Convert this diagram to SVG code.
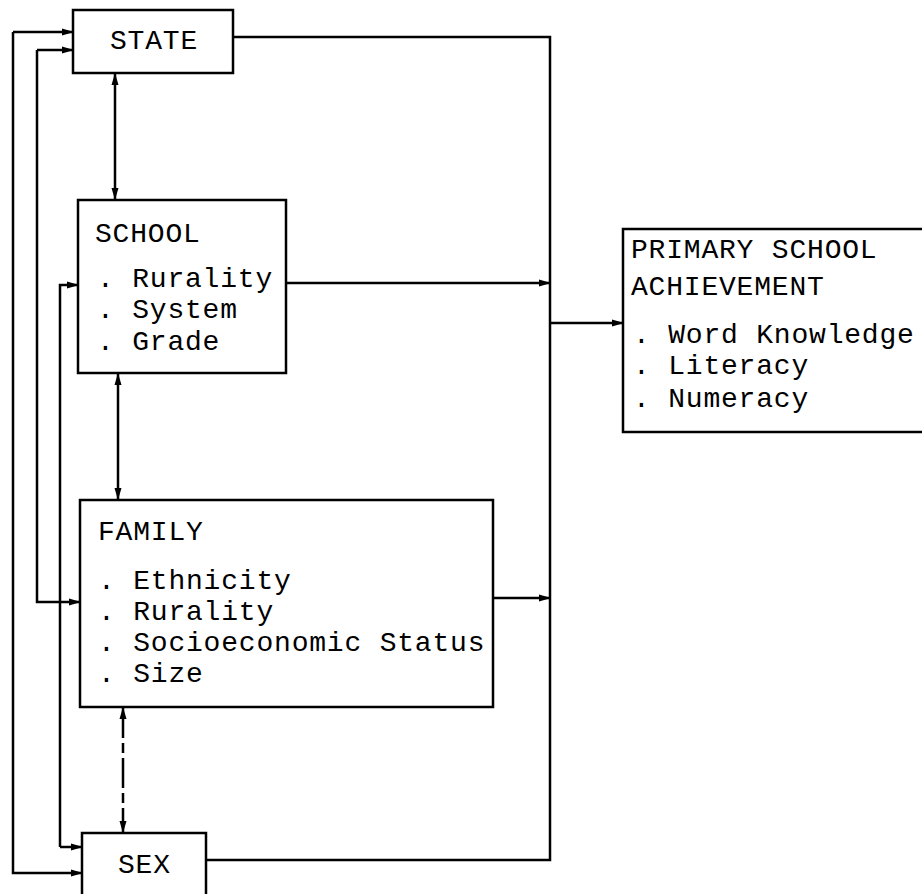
<svg xmlns="http://www.w3.org/2000/svg" width="922" height="894" viewBox="0 0 922 894">
<defs>
<style>
.box{fill:#fff;stroke:#000;stroke-width:2.5}
.ln{fill:none;stroke:#000;stroke-width:2.5}
.t{font-family:"Liberation Mono","DejaVu Sans Mono",monospace;font-size:28px;letter-spacing:0.8px;fill:#000}
</style>
<marker id="ah" markerWidth="12" markerHeight="8" refX="11" refY="4" orient="auto" markerUnits="userSpaceOnUse">
<path d="M0,0.5 L12,4 L0,7.5 z" fill="#000"/>
</marker>
<marker id="as" markerWidth="12" markerHeight="8" refX="1" refY="4" orient="auto" markerUnits="userSpaceOnUse">
<path d="M12,0.5 L0,4 L12,7.5 z" fill="#000"/>
</marker>
</defs>
<rect width="922" height="894" fill="#fff"/>
<g id="connectors">
<path class="ln" d="M13,32 H73" marker-end="url(#ah)"/>
<path class="ln" d="M13,32 V873 H82" marker-end="url(#ah)"/>
<path class="ln" d="M37,50 H73" marker-end="url(#ah)"/>
<path class="ln" d="M37,50 V602 H80" marker-end="url(#ah)"/>
<path class="ln" d="M60,847 V285 H78" marker-end="url(#ah)"/>
<path class="ln" d="M60,847 H82" marker-end="url(#ah)"/>
<path class="ln" d="M115,74 V199" marker-start="url(#as)" marker-end="url(#ah)"/>
<path class="ln" d="M118,374 V499" marker-start="url(#as)" marker-end="url(#ah)"/>
<path class="ln" d="M123,708 V832" stroke-dasharray="30 5 10 5" marker-start="url(#as)" marker-end="url(#ah)"/>
<path class="ln" d="M233,37 H550 V860 H206"/>
<path class="ln" d="M286,283 H550" marker-end="url(#ah)"/>
<path class="ln" d="M493,598 H550" marker-end="url(#ah)"/>
<path class="ln" d="M550,323 H623" marker-end="url(#ah)"/>
</g>
<g id="state">
<rect class="box" x="73" y="10" width="160" height="63"/>
<text class="t" x="110" y="49">STATE</text>
</g>
<g id="school">
<rect class="box" x="78" y="200" width="208" height="173"/>
<text class="t" x="95" y="242">SCHOOL</text>
<text class="t" x="97" y="287">. Rurality</text>
<text class="t" x="97" y="318">. System</text>
<text class="t" x="97" y="350">. Grade</text>
</g>
<g id="family">
<rect class="box" x="80" y="500" width="413" height="207"/>
<text class="t" x="98" y="540">FAMILY</text>
<text class="t" x="98" y="589">. Ethnicity</text>
<text class="t" x="98" y="620">. Rurality</text>
<text class="t" x="98" y="651">. Socioeconomic Status</text>
<text class="t" x="98" y="682">. Size</text>
</g>
<g id="sex">
<rect class="box" x="82" y="833" width="124" height="75"/>
<text class="t" x="118" y="873">SEX</text>
</g>
<g id="achievement">
<rect class="box" x="623" y="229" width="310" height="203"/>
<text class="t" x="631" y="258">PRIMARY SCHOOL</text>
<text class="t" x="631" y="295">ACHIEVEMENT</text>
<text class="t" x="633" y="343">. Word Knowledge</text>
<text class="t" x="633" y="374">. Literacy</text>
<text class="t" x="633" y="407">. Numeracy</text>
</g>
</svg>
